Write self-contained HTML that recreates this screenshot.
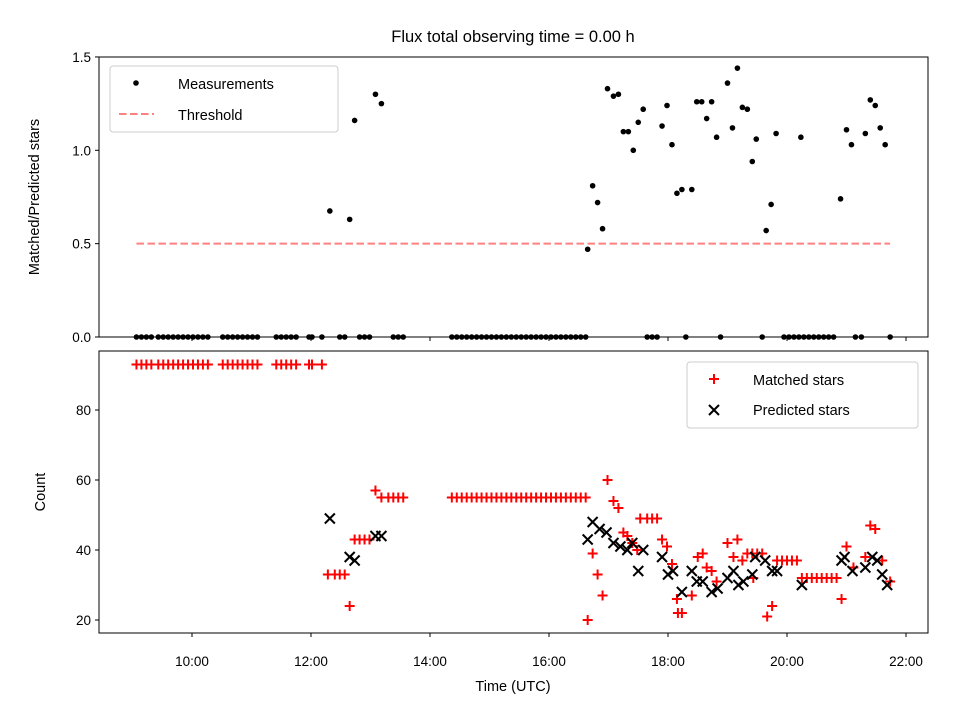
<!DOCTYPE html>
<html><head><meta charset="utf-8"><style>
body{margin:0;background:#fff;}
svg{display:block;font-family:"Liberation Sans","DejaVu Sans",sans-serif;}
</style></head><body>
<svg id="c" width="960" height="720" viewBox="0 0 960 720"></svg>
<script>
const zeroTimes=["09:04","09:09","09:14","09:19","09:26","09:31","09:36","09:41","09:46","09:51","09:56","10:01","10:06","10:11","10:16","10:31","10:36","10:41","10:46","10:51","10:56","11:01","11:06","11:25","11:30","11:35","11:40","11:45","11:58","12:01","12:11","12:29","12:34","12:49","12:54","12:59","13:23","13:28","13:33","14:22","14:27","14:32","14:37","14:42","14:47","14:52","14:57","15:02","15:07","15:12","15:17","15:22","15:27","15:32","15:37","15:42","15:47","15:52","15:57","16:02","16:07","16:12","16:17","16:22","16:27","16:32","16:37","17:39","17:44","17:49","18:18","18:53","19:35","19:57","20:02","20:07","20:12","20:17","20:22","20:27","20:32","20:37","20:42","20:47","21:09","21:15","21:44"];
const ratioTimes=["12:19","12:39","12:44","13:05","13:11","16:39","16:44","16:49","16:54","16:59","17:05","17:10","17:15","17:20","17:25","17:30","17:35","17:54","17:59","18:04","18:09","18:14","18:24","18:29","18:34","18:39","18:44","18:49","19:00","19:05","19:10","19:15","19:20","19:25","19:29","19:39","19:44","19:49","20:14","20:54","21:00","21:05","21:19","21:24","21:29","21:34","21:39"];
const ratioValues=[0.675,0.63,1.16,1.30,1.25,0.47,0.81,0.72,0.58,1.33,1.29,1.30,1.10,1.10,1.00,1.15,1.22,1.13,1.24,1.03,0.77,0.79,0.79,1.26,1.26,1.17,1.26,1.07,1.36,1.12,1.44,1.23,1.22,0.94,1.06,0.57,0.71,1.09,1.07,0.74,1.11,1.03,1.09,1.27,1.24,1.12,1.03];
const threshold=0.5;
const thresholdRange=["09:04","21:44"];
const matchedTimes=["09:04","09:09","09:14","09:19","09:26","09:31","09:36","09:41","09:46","09:51","09:56","10:01","10:06","10:11","10:16","10:31","10:36","10:41","10:46","10:51","10:56","11:01","11:06","11:25","11:30","11:35","11:40","11:45","11:58","12:01","12:11","12:17","12:24","12:29","12:34","12:39","12:44","12:49","12:54","12:59","13:05","13:11","13:18","13:23","13:28","13:33","14:22","14:27","14:32","14:37","14:42","14:47","14:52","14:57","15:02","15:07","15:12","15:17","15:22","15:27","15:32","15:37","15:42","15:47","15:52","15:57","16:02","16:07","16:12","16:17","16:22","16:27","16:32","16:37","16:39","16:44","16:49","16:54","16:59","17:05","17:10","17:15","17:19","17:24","17:29","17:32","17:39","17:44","17:49","17:54","17:59","18:04","18:09","18:10","18:14","18:24","18:30","18:35","18:39","18:44","18:49","19:00","19:06","19:10","19:15","19:20","19:25","19:26","19:30","19:35","19:40","19:45","19:50","19:55","20:00","20:05","20:10","20:15","20:20","20:25","20:30","20:35","20:40","20:45","20:50","20:55","21:00","21:07","21:19","21:24","21:29","21:36","21:44"];
const matchedValues=[93,93,93,93,93,93,93,93,93,93,93,93,93,93,93,93,93,93,93,93,93,93,93,93,93,93,93,93,93,93,93,33,33,33,33,24,43,43,43,43,57,55,55,55,55,55,55,55,55,55,55,55,55,55,55,55,55,55,55,55,55,55,55,55,55,55,55,55,55,55,55,55,55,55,20,39,33,27,60,54,52,45,44,42,40,49,49,49,49,43,41,36,26,22,22,27,38,39,35,34,31,42,38,43,37,39,39,32,39,39,21,24,37,37,37,37,37,32,32,32,32,32,32,32,32,26,41,35,38,47,46,37,31];
const predictedTimes=["12:19","12:39","12:44","13:05","13:11","16:39","16:44","16:51","16:58","17:05","17:12","17:19","17:24","17:30","17:35","17:54","18:00","18:05","18:14","18:24","18:29","18:35","18:44","18:50","19:00","19:06","19:11","19:16","19:25","19:28","19:38","19:45","19:50","20:15","20:55","20:58","21:06","21:19","21:26","21:31","21:36","21:41"];
const predictedValues=[49,38,37,44,44,43,48,46,45,42,41,40,42,34,40,38,33,34,28,34,31,31,28,29,32,34,30,31,33,38,37,34,34,30,37,38,34,35,38,37,33,30];
const xTickLabels=["10:00","12:00","14:00","16:00","18:00","20:00","22:00"];
const topYTicks=[0,0.5,1.0,1.5];
const botYTicks=[20,40,60,80];

const NS="http://www.w3.org/2000/svg";
const svg=document.getElementById('c');
function el(tag,attrs,parent){const e=document.createElementNS(NS,tag);for(const k in attrs)e.setAttribute(k,attrs[k]);(parent||svg).appendChild(e);return e;}
function hrs(t){const p=t.split(':');return +p[0]+ +p[1]/60;}
const L=99,R=928;
const X=h=>192+(h-10)*59.5;
const T={top:57,bot:337};const B={top:351,bot:633};
const yTop=v=>337-v*186.7;
const yBot=v=>620-(v-20)*3.5;

function txt(x,y,s,anchor,size,name,rot){const t=el('text',{x:x,y:y,'text-anchor':anchor,'font-size':size,fill:'#000'});if(rot)t.setAttribute('transform',`rotate(-90 ${x} ${y})`);t.textContent=s;

return t;}

txt(513,42,"Flux total observing time = 0.00 h","middle",16.5,"chart-title");

const gTop=el('g',{});


const th=el('line',{x1:X(hrs(thresholdRange[0])),x2:X(hrs(thresholdRange[1])),y1:yTop(threshold),y2:yTop(threshold),stroke:'#ff8080','stroke-width':2,'stroke-dasharray':'7.5,3.5'},gTop);


zeroTimes.forEach(t=>{const c=el('circle',{cx:X(hrs(t)),cy:yTop(0),r:2.8,fill:'#000'},gTop);

});
ratioTimes.forEach((t,i)=>{const c=el('circle',{cx:X(hrs(t)),cy:yTop(ratioValues[i]),r:2.8,fill:'#000'},gTop);

});
const fTop=el('rect',{x:L,y:T.top,width:R-L,height:T.bot-T.top,fill:'none',stroke:'#000','stroke-width':1});


topYTicks.forEach(v=>{el('line',{x1:L-4,x2:L,y1:yTop(v),y2:yTop(v),stroke:'#000'});txt(L-8,yTop(v)+5,v.toFixed(1),"end",13.5,"top-y-tick-label");});
xTickLabels.forEach(s=>{const x=X(hrs(s));el('line',{x1:x,x2:x,y1:T.bot,y2:T.bot+4,stroke:'#000'});});
txt(39,197,"Matched/Predicted stars","middle",14.5,"top-y-axis-title",true);

const gB=el('g',{});


function plus(x,y,parent){const g=el('g',{stroke:'#ff0000','stroke-width':2},parent);el('line',{x1:x-5,x2:x+5,y1:y,y2:y},g);el('line',{x1:x,x2:x,y1:y-5,y2:y+5},g);return g;}
function cross(x,y,parent){const g=el('g',{stroke:'#000','stroke-width':2},parent);el('line',{x1:x-5,x2:x+5,y1:y-5,y2:y+5},g);el('line',{x1:x-5,x2:x+5,y1:y+5,y2:y-5},g);return g;}
matchedTimes.forEach((t,i)=>{const g=plus(X(hrs(t)),yBot(matchedValues[i]),gB);

});
predictedTimes.forEach((t,i)=>{const g=cross(X(hrs(t)),yBot(predictedValues[i]),gB);

});
const fB=el('rect',{x:L,y:B.top,width:R-L,height:B.bot-B.top,fill:'none',stroke:'#000','stroke-width':1});


botYTicks.forEach(v=>{el('line',{x1:L-4,x2:L,y1:yBot(v),y2:yBot(v),stroke:'#000'});txt(L-8,yBot(v)+5,String(v),"end",13.5,"bottom-y-tick-label");});
xTickLabels.forEach(s=>{const x=X(hrs(s));el('line',{x1:x,x2:x,y1:B.bot,y2:B.bot+4,stroke:'#000'});txt(x,B.bot+33,s,"middle",13.5,"x-tick-label");});
txt(45,492,"Count","middle",14.5,"bottom-y-axis-title",true);
txt(513,691,"Time (UTC)","middle",14.5,"x-axis-title");

const lg1=el('g',{});


el('rect',{x:110,y:66,width:228,height:66,rx:3,fill:'#fff','fill-opacity':0.8,stroke:'#ccc'},lg1);
el('circle',{cx:136,cy:83,r:2.8,fill:'#000'},lg1);
el('line',{x1:119,x2:154,y1:114,y2:114,stroke:'#ff8080','stroke-width':2,'stroke-dasharray':'7.5,3.5'},lg1);
lg1.appendChild(txt(178,89,"Measurements","start",14.5,"legend-measurements"));
lg1.appendChild(txt(178,120,"Threshold","start",14.5,"legend-threshold"));
const lg2=el('g',{});


el('rect',{x:687,y:362,width:231,height:66,rx:3,fill:'#fff','fill-opacity':0.8,stroke:'#ccc'},lg2);
plus(714,379,lg2);cross(714,410,lg2);
lg2.appendChild(txt(753,385,"Matched stars","start",14.5,"legend-matched-stars"));
lg2.appendChild(txt(753,415,"Predicted stars","start",14.5,"legend-predicted-stars"));
</script>
</body></html>
